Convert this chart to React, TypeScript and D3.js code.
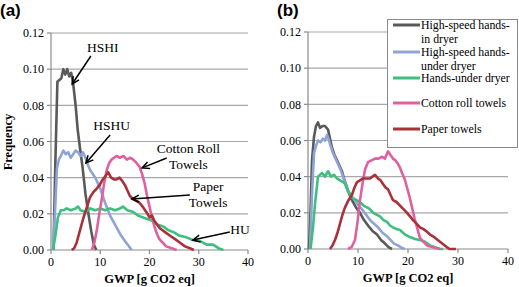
import React from "react";
import * as d3 from "d3";

// ---------- DATA ----------
const xTicks = [0, 10, 20, 30, 40];
const yTicks = [0, 0.02, 0.04, 0.06, 0.08, 0.1, 0.12];
const seriesNames = ["High-speed hands-in dryer", "High-speed hands-under dryer", "Hands-under dryer", "Cotton roll towels", "Paper towels"];
const legendLines = [["High-speed hands-", "in dryer"], ["High-speed hands-", "under dryer"], ["Hands-under dryer"], ["Cotton roll towels"], ["Paper towels"]];
const seriesColors = ["#595959", "#8fa4d6", "#3cbf7f", "#e0609e", "#a8313a"];

// Panel (a)
const aHSHIx = [0.5, 0.9, 1.3, 1.7, 2.1, 2.5, 2.9, 3.3, 3.7, 4.1, 4.5, 5.0, 5.4, 5.9, 6.4, 7.0, 7.6, 8.2, 8.7, 9.2];
const aHSHIy = [0, 0.05, 0.093, 0.094, 0.095, 0.1, 0.097, 0.1, 0.096, 0.098, 0.092, 0.08, 0.067, 0.056, 0.046, 0.031, 0.02, 0.01, 0.003, 0];
const aHSHUx = [0.4, 0.8, 1.2, 1.6, 2.0, 2.5, 3.0, 3.5, 4.0, 4.5, 5.0, 5.5, 6.0, 6.5, 7.0, 7.5, 8.0, 9.0, 10.0, 11.0, 12.0, 13.0, 14.0, 15.0, 16.4];
const aHSHUy = [0, 0.02, 0.045, 0.05, 0.052, 0.055, 0.053, 0.054, 0.051, 0.053, 0.055, 0.054, 0.052, 0.054, 0.051, 0.047, 0.044, 0.04, 0.034, 0.026, 0.019, 0.014, 0.009, 0.005, 0];
const aHUx = [0.4, 0.9, 1.4, 2.0, 2.6, 3.2, 4, 5, 5.5, 6, 7, 8, 9, 10, 11, 12, 13, 14, 14.6, 15.5, 16.7, 17.7, 18.7, 19.7, 20.7, 21.7, 22.8, 23.8, 24.8, 26, 27.5, 28.8, 30.2, 31.6, 32.9, 34, 35];
const aHUy = [0, 0.008, 0.018, 0.022, 0.022, 0.023, 0.022, 0.023, 0.024, 0.022, 0.021, 0.023, 0.022, 0.023, 0.022, 0.023, 0.022, 0.023, 0.024, 0.022, 0.021, 0.019, 0.018, 0.017, 0.016, 0.014, 0.013, 0.011, 0.01, 0.008, 0.007, 0.0055, 0.005, 0.003, 0.003, 0.001, 0];
const aCOTx = [8.3, 8.8, 9.3, 9.8, 10.3, 10.8, 11.3, 11.8, 12.3, 12.8, 13.3, 14.0, 14.7, 15.4, 16.1, 16.7, 17.4, 18.0, 18.5, 19.0, 19.5, 20.0, 20.5, 21.0, 21.5, 22.0, 22.7, 23.4, 24.5, 25.5];
const aCOTy = [0, 0.004, 0.011, 0.02, 0.028, 0.037, 0.044, 0.048, 0.05, 0.051, 0.052, 0.051, 0.052, 0.05, 0.051, 0.05, 0.048, 0.046, 0.042, 0.037, 0.03, 0.024, 0.018, 0.013, 0.009, 0.006, 0.004, 0.002, 0.001, 0];
const aPAPx = [4.2, 4.7, 5.2, 5.8, 6.5, 7.2, 7.9, 8.6, 9.3, 9.9, 10.5, 11.1, 11.6, 12.2, 12.8, 13.3, 13.9, 14.5, 15.0, 15.5, 16.0, 16.7, 17.4, 18.0, 18.6, 19.1, 19.6, 20.0, 20.5, 21.0, 22.1, 23.1, 24.1, 25.2, 26.2, 27.2, 28.2, 29.0];
const aPAPy = [0, 0.001, 0.004, 0.01, 0.017, 0.023, 0.029, 0.032, 0.034, 0.036, 0.039, 0.041, 0.043, 0.04, 0.039, 0.039, 0.04, 0.038, 0.036, 0.033, 0.03, 0.028, 0.027, 0.026, 0.024, 0.022, 0.02, 0.018, 0.019, 0.016, 0.012, 0.01, 0.008, 0.006, 0.004, 0.002, 0.001, 0];

// Panel (b)
const bHSHIx = [0.2, 0.5, 0.8, 1.2, 1.6, 2.0, 2.4, 2.9, 3.4, 4.0, 4.4, 4.8, 5.3, 5.8, 6.3, 6.8, 7.3, 7.8, 8.3, 8.8, 9.6, 10.4, 11.2, 12.0, 12.9, 13.8, 14.6, 15.4, 16.1, 16.8];
const bHSHIy = [0, 0.02, 0.049, 0.062, 0.068, 0.07, 0.067, 0.068, 0.068, 0.066, 0.061, 0.056, 0.052, 0.049, 0.046, 0.043, 0.038, 0.034, 0.03, 0.027, 0.023, 0.02, 0.016, 0.013, 0.01, 0.008, 0.005, 0.003, 0.001, 0];
const bHSHUx = [0.4, 0.8, 1.2, 1.6, 2.0, 2.5, 3.0, 3.4, 3.8, 4.1, 4.4, 5.0, 5.5, 6.0, 6.5, 7.0, 7.5, 8.0, 8.7, 9.4, 10.1, 10.8, 11.6, 12.4, 13.2, 14.0, 14.9, 15.8, 16.5, 17.2, 18.0, 18.8, 19.4];
const bHSHUy = [0, 0.03, 0.053, 0.057, 0.06, 0.059, 0.061, 0.06, 0.063, 0.061, 0.058, 0.053, 0.05, 0.047, 0.044, 0.04, 0.036, 0.032, 0.029, 0.027, 0.024, 0.022, 0.019, 0.016, 0.014, 0.012, 0.009, 0.007, 0.005, 0.003, 0.002, 0.0005, 0];
const bHUx = [0.5, 1.0, 1.4, 2.0, 2.4, 2.8, 3.4, 4.0, 4.6, 5.2, 5.8, 6.4, 7.0, 7.4, 8.0, 8.5, 9.0, 9.7, 10.4, 11.1, 11.8, 12.4, 13.0, 13.7, 14.4, 15.1, 15.8, 16.4, 17.0, 17.7, 18.4, 19.4, 20.4, 21.4, 22.4, 23.4, 24.4, 25.4, 26.4, 27.0];
const bHUy = [0, 0.012, 0.025, 0.04, 0.041, 0.042, 0.04, 0.043, 0.04, 0.041, 0.039, 0.038, 0.037, 0.036, 0.032, 0.03, 0.028, 0.027, 0.026, 0.024, 0.023, 0.022, 0.02, 0.019, 0.018, 0.016, 0.015, 0.013, 0.012, 0.011, 0.0105, 0.008, 0.0066, 0.0055, 0.005, 0.004, 0.002, 0.001, 0, 0];
const bCOTx = [8.0, 8.7, 9.4, 9.9, 10.4, 10.9, 11.4, 12.0, 12.7, 13.4, 14.1, 14.8, 15.4, 16.0, 16.5, 17.0, 17.5, 18.0, 18.4, 18.8, 19.3, 19.8, 20.3, 20.8, 21.3, 21.8, 22.4, 23.1, 23.8, 25.0, 26.4];
const bCOTy = [0, 0.001, 0.005, 0.015, 0.027, 0.036, 0.044, 0.048, 0.049, 0.05, 0.05, 0.051, 0.05, 0.054, 0.052, 0.05, 0.049, 0.047, 0.045, 0.042, 0.039, 0.034, 0.029, 0.023, 0.017, 0.012, 0.006, 0.004, 0.002, 0.001, 0];
const bPAPx = [4.4, 4.9, 5.4, 5.9, 6.4, 6.9, 7.4, 8.1, 8.8, 9.3, 9.8, 10.4, 11.0, 11.7, 12.4, 12.9, 13.4, 14.0, 14.5, 15.0, 15.5, 16.0, 16.5, 17.0, 17.7, 18.4, 19.1, 19.8, 20.4, 21.0, 21.7, 22.4, 23.1, 23.8, 24.4, 25.0, 25.7, 26.4, 27.1, 27.8, 28.3, 29.6];
const bPAPy = [0, 0.002, 0.005, 0.009, 0.014, 0.019, 0.023, 0.027, 0.03, 0.034, 0.037, 0.038, 0.039, 0.039, 0.039, 0.04, 0.041, 0.039, 0.038, 0.036, 0.034, 0.033, 0.03, 0.027, 0.026, 0.024, 0.022, 0.02, 0.018, 0.016, 0.014, 0.012, 0.011, 0.0095, 0.008, 0.007, 0.0055, 0.004, 0.0025, 0.001, 0, 0];

// Annotations in panel (a): text lines, text anchor point, arrow start, arrow end (data units)
const annotLabels = [["HSHI"], ["HSHU"], ["Cotton Roll", "Towels"], ["Paper", "Towels"], ["HU"]];
const annotTextX = [10.5, 12.3, 27.9, 31.9, 38.4];
const annotTextY = [0.1095, 0.0664, 0.0535, 0.0327, 0.0088];
const annotFromX = [8.1, 12.0, 23.5, 28.2, 36.3];
const annotFromY = [0.1073, 0.0636, 0.0509, 0.0304, 0.0100];
const annotToX = [4.3, 7.1, 18.5, 16.4, 28.8];
const annotToY = [0.0918, 0.0481, 0.0454, 0.0282, 0.0055];

const panelA = [[aHSHIx, aHSHIy], [aHSHUx, aHSHUy], [aHUx, aHUy], [aCOTx, aCOTy], [aPAPx, aPAPy]];
const panelB = [[bHSHIx, bHSHIy], [bHSHUx, bHSHUy], [bHUx, bHUy], [bCOTx, bCOTy], [bPAPx, bPAPy]];

const SERIF = "'Liberation Serif', 'Times New Roman', serif";
const SANS = "'Liberation Sans', Arial, sans-serif";
const GRID = "#a8a8a8";
const AXIS = "#8a8a8a";

function Panel({ left, right, bottom, top, data, yLabels }: any) {
  const x = d3.scaleLinear().domain([0, 40]).range([left, right]);
  const y = d3.scaleLinear().domain([0, 0.12]).range([bottom, top]);
  const line = d3.line<[number, number]>().x((d) => x(d[0])).y((d) => y(d[1]));
  return (
    <g>
      {yTicks.filter((t) => t > 0).map((t) => (
        <line key={"g" + t} x1={left} x2={right} y1={y(t)} y2={y(t)} stroke={GRID} strokeWidth={1.2} />
      ))}
      <line x1={left} x2={left} y1={top} y2={bottom} stroke={AXIS} strokeWidth={1.2} />
      <line x1={left} x2={right} y1={bottom} y2={bottom} stroke={AXIS} strokeWidth={1.2} />
      {yTicks.map((t) => (
        <g key={"yt" + t}>
          <line x1={left - 4} x2={left} y1={y(t)} y2={y(t)} stroke={AXIS} strokeWidth={1.2} />
          {yLabels && (
            <text x={left - 7} y={y(t)} dy="0.35em" textAnchor="end" fontFamily={SERIF} fontSize={12} fill="#000">
              {t.toFixed(2)}
            </text>
          )}
        </g>
      ))}
      {xTicks.map((t) => (
        <g key={"xt" + t}>
          <line x1={x(t)} x2={x(t)} y1={bottom} y2={bottom + 4} stroke={AXIS} strokeWidth={1.2} />
          <text x={x(t)} y={bottom + 16} textAnchor="middle" fontFamily={SERIF} fontSize={12} fill="#000">
            {t}
          </text>
        </g>
      ))}
      {data.map((s: number[][], i: number) => (
        <path
          key={"s" + i}
          d={line(s[0].map((v, k) => [v, s[1][k]] as [number, number])) || ""}
          fill="none"
          stroke={seriesColors[i]}
          strokeWidth={2.6}
          strokeLinejoin="round"
        />
      ))}
      <text x={(left + right) / 2} y={bottom + 33} textAnchor="middle" fontFamily={SERIF} fontSize={12.5} fontWeight="bold">
        GWP [g CO2 eq]
      </text>
    </g>
  );
}

function Arrow({ x1, y1, x2, y2 }: any) {
  const ang = Math.atan2(y2 - y1, x2 - x1);
  const L = 8;
  const a = 0.45;
  const p1 = [x2 - L * Math.cos(ang - a), y2 - L * Math.sin(ang - a)];
  const p2 = [x2 - L * Math.cos(ang + a), y2 - L * Math.sin(ang + a)];
  return (
    <g stroke="#000" strokeWidth={1.5} fill="none">
      <line x1={x1} y1={y1} x2={x2} y2={y2} />
      <polyline points={`${p1[0]},${p1[1]} ${x2},${y2} ${p2[0]},${p2[1]}`} />
    </g>
  );
}

export default function App() {
  const ax = d3.scaleLinear().domain([0, 40]).range([51, 248]);
  const ay = d3.scaleLinear().domain([0, 0.12]).range([250, 33]);
  return (
    <svg width={519} height={287} style={{ position: "absolute", left: 0, top: 0, background: "#fff" }}>
      <rect width={519} height={287} fill="#fff" />
      <text x={0} y={16} fontFamily={SANS} fontWeight="bold" fontSize={17}>(a)</text>
      <text x={277} y={16} fontFamily={SANS} fontWeight="bold" fontSize={17}>(b)</text>
      <text transform="translate(12,142) rotate(-90)" textAnchor="middle" fontFamily={SERIF} fontWeight="bold" fontSize={12.5}>
        Frequency
      </text>
      <Panel left={51} right={248} bottom={250} top={33} data={panelA} yLabels={true} />
      <Panel left={308} right={508} bottom={249} top={32} data={panelB} yLabels={true} />
      {annotLabels.map((lines, i) => (
        <g key={"an" + i}>
          {lines.map((l, k) => (
            <text key={k} x={ax(annotTextX[i])} y={ay(annotTextY[i]) + k * 16} textAnchor="middle" fontFamily={SERIF} fontSize={13.5}>
              {l}
            </text>
          ))}
          <Arrow x1={ax(annotFromX[i])} y1={ay(annotFromY[i])} x2={ax(annotToX[i])} y2={ay(annotToY[i])} />
        </g>
      ))}
      <g>
        <rect x={387.5} y={19.5} width={130} height={128} fill="#fff" stroke="#8a8a8a" strokeWidth={1} />
        {seriesNames.map((n, i) => {
          const ly = [25, 52, 78, 103, 129][i];
          return (
            <g key={n}>
              <line x1={393} x2={420} y1={ly} y2={ly} stroke={seriesColors[i]} strokeWidth={3} />
              {legendLines[i].map((t, k) => (
                <text key={k} x={421} y={ly + 4 + k * 13.5} fontFamily={SERIF} fontSize={11.8}>
                  {t}
                </text>
              ))}
            </g>
          );
        })}
      </g>
    </svg>
  );
}
